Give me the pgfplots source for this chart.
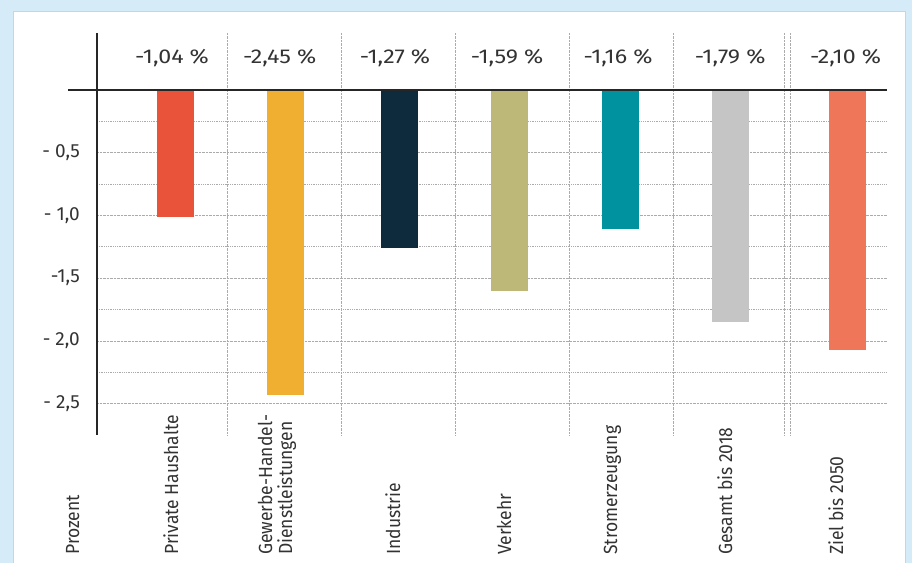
\documentclass[border=0pt]{standalone}
\usepackage{fontspec}
\setmainfont{Fira Sans}
\newfontfamily\numfont[FakeStretch=1.16]{Fira Sans}
\newfontfamily\catfont[FakeStretch=0.92]{Fira Sans}
\usepackage{pgfplots}
\pgfplotsset{compat=1.18}

\definecolor{bgblue}{HTML}{D5ECF8}
\definecolor{panelline}{HTML}{B9DAEC}
\definecolor{txt}{HTML}{333333}
\definecolor{gridgray}{HTML}{ABABAB}
\definecolor{cHaus}{HTML}{E8533A}
\definecolor{cGew}{HTML}{F0AF30}
\definecolor{cInd}{HTML}{0E2B3E}
\definecolor{cVer}{HTML}{BDB877}
\definecolor{cStr}{HTML}{00929E}
\definecolor{cGes}{HTML}{C5C5C5}
\definecolor{cZiel}{HTML}{EF7658}

\newcommand{\toplab}{\numfont\fontsize{20bp}{22bp}\selectfont}
\newcommand{\ticklab}{\fontsize{19bp}{22bp}\selectfont}
\newcommand{\catlab}{\catfont\fontsize{19bp}{21bp}\selectfont}

\begin{document}
\begin{tikzpicture}
\useasboundingbox (0,0) rectangle (912bp,563bp);
\fill[bgblue] (0,0) rectangle (912bp,563bp);
\filldraw[fill=white, draw=panelline, line width=1bp] (13bp,-3bp) rectangle (905bp,551bp);

\begin{axis}[
    at={(97bp,128bp)}, anchor=south west,
    scale only axis, width=790bp, height=402bp,
    xmin=-0.7, xmax=6.35, ymin=-2.75, ymax=0.455,
    axis line style={draw=none},
    xtick={0.46,1.478,2.496,3.513,4.442,5.433,5.487},
    xticklabels={},
    ytick={-2.5,-2,-1.5,-1,-0.5},
    yticklabels={{- 2,5},{- 2,0},{-1,5},{- 1,0},{- 0,5}},
    minor ytick={-2.25,-1.75,-1.25,-0.75,-0.25},
    major tick length=0pt, minor tick length=0pt,
    xmajorgrids, ymajorgrids, yminorgrids,
    grid style={densely dotted, gridgray, line width=0.8bp},
    minor grid style={densely dotted, gridgray, line width=0.8bp},
    yticklabel style={font=\ticklab, text=txt, anchor=east, inner sep=0pt, xshift=-17bp},
    clip=false,
]
% bars, heights as drawn
\addplot[ybar, bar width=37bp, bar shift=0pt, fill=cHaus, draw=none] coordinates {(0,-1.01)};
\addplot[ybar, bar width=37bp, bar shift=0pt, fill=cGew, draw=none] coordinates {(0.982,-2.43)};
\addplot[ybar, bar width=37bp, bar shift=0pt, fill=cInd, draw=none] coordinates {(1.996,-1.26)};
\addplot[ybar, bar width=37bp, bar shift=0pt, fill=cVer, draw=none] coordinates {(2.978,-1.60)};
\addplot[ybar, bar width=37bp, bar shift=0pt, fill=cStr, draw=none] coordinates {(3.969,-1.11)};
\addplot[ybar, bar width=37bp, bar shift=0pt, fill=cGes, draw=none] coordinates {(4.951,-1.85)};
\addplot[ybar, bar width=37bp, bar shift=0pt, fill=cZiel, draw=none] coordinates {(6.0,-2.07)};

% axes lines
\draw[line width=1.6bp, black!85] (axis cs:-0.96,0) -- (axis cs:6.35,0);
\draw[line width=1.6bp, black!85] (axis cs:-0.7,0.455) -- (axis cs:-0.7,-2.75);

% value labels
\node[anchor=base, font=\toplab, text=txt] at (axis cs:-0.03,0.215) {-1,04 \%};
\node[anchor=base, font=\toplab, text=txt] at (axis cs:0.93,0.215) {-2,45 \%};
\node[anchor=base, font=\toplab, text=txt] at (axis cs:1.96,0.215) {-1,27 \%};
\node[anchor=base, font=\toplab, text=txt] at (axis cs:2.96,0.215) {-1,59 \%};
\node[anchor=base, font=\toplab, text=txt] at (axis cs:3.95,0.215) {-1,16 \%};
\node[anchor=base, font=\toplab, text=txt] at (axis cs:4.95,0.215) {-1,79 \%};
\node[anchor=base, font=\toplab, text=txt] at (axis cs:5.98,0.215) {-2,10 \%};
\end{axis}

% category labels
\begin{scope}[every node/.style={rotate=90, anchor=base west, font=\catlab, text=txt, inner sep=0pt}]
\node at (79bp,8bp) {Prozent};
\node at (178bp,8bp) {Private Haushalte};
\node at (272bp,8bp) {Gewerbe-Handel-};
\node at (292bp,8bp) {Dienstleistungen};
\node at (400bp,8bp) {Industrie};
\node at (511bp,8bp) {Verkehr};
\node at (617bp,8bp) {Stromerzeugung};
\node at (732bp,8bp) {Gesamt bis 2018};
\node at (843bp,8bp) {Ziel bis 2050};
\end{scope}
\end{tikzpicture}
\end{document}
